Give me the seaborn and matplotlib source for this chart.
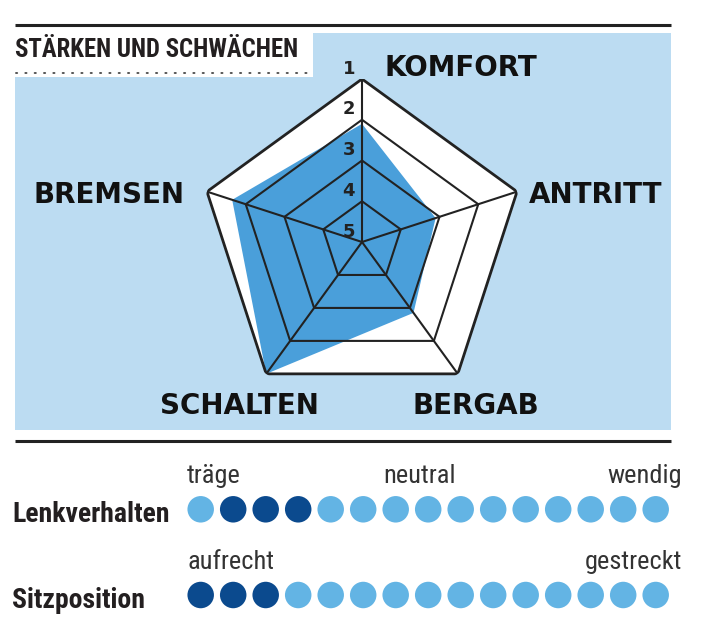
import os
import numpy as np
import pandas as pd
import matplotlib
matplotlib.use("Agg")
import matplotlib.pyplot as plt
from matplotlib import font_manager as fm
import seaborn as sns

# ---------------- data ----------------
title = "STÄRKEN UND SCHWÄCHEN"
categories = ["KOMFORT", "ANTRITT", "BERGAB", "SCHALTEN", "BREMSEN"]
grades = [2.1, 3.1, 2.85, 1.0, 1.65]          # school grades, 1 = best (outer ring)
ring_labels = ["1", "2", "3", "4", "5"]

row_names = ["Lenkverhalten", "Sitzposition"]
lenk_dots = [0, 1, 1, 1, 0, 0, 0, 0, 0, 0, 0, 0, 0, 0, 0]   # 1 = dark (selected)
sitz_dots = [1, 1, 1, 0, 0, 0, 0, 0, 0, 0, 0, 0, 0, 0, 0]
lenk_scale = ["träge", "neutral", "wendig"]
sitz_scale = ["aufrecht", "gestreckt"]

# ---------------- fonts ----------------
WMAP = {"ultralight": 200, "light": 300, "normal": 400, "regular": 400, "book": 400,
        "medium": 500, "roman": 400, "semibold": 600, "demibold": 600, "demi": 600,
        "bold": 700, "heavy": 800, "extra bold": 800, "black": 900}


def _w(v):
    if isinstance(v, (int, float)):
        return int(v)
    return WMAP.get(str(v).lower(), 400)


PREF = ["roboto condensed", "open sans condensed", "noto sans condensed",
        "noto sans semicondensed", "dejavu sans condensed", "liberation sans narrow",
        "noto sans extracondensed"]


def find_condensed(target_weight):
    best, best_score = None, None
    for f in fm.fontManager.ttflist:
        nm = f.name.lower()
        fn = os.path.basename(f.fname).lower()
        if any(k in nm for k in ("mono", "serif", "cjk", "math")):
            continue
        if str(f.style) != "normal" or "italic" in fn or "oblique" in fn:
            continue
        stretch = str(f.stretch).lower()
        cond = ("condensed" in nm or "narrow" in nm or "cond" in fn or "narrow" in fn
                or "condensed" in stretch)
        if not cond:
            continue
        key = nm + " " + fn
        rank = len(PREF)
        for i, p in enumerate(PREF):
            if p.replace(" ", "") in key.replace(" ", "").replace("-", ""):
                rank = i
                break
        if "extracondensed" in fn.replace("-", "") and rank == len(PREF):
            rank = len(PREF) + 1
        score = (rank, abs(_w(f.weight) - target_weight))
        if best_score is None or score < best_score:
            best, best_score = f, score
    return best


fb = find_condensed(700)
fr = find_condensed(350)
if fb is not None:
    NARROW_B = fm.FontProperties(fname=fb.fname)
else:
    NARROW_B = fm.FontProperties(family="DejaVu Sans", weight="bold")
if fr is not None:
    NARROW_R = fm.FontProperties(fname=fr.fname)
else:
    NARROW_R = fm.FontProperties(family="DejaVu Sans")

# ---------------- style ----------------
sns.set_style("white")
plt.rcParams["font.family"] = ["DejaVu Sans"]

PANEL = "#bcdcf2"
FILL = "#4a9fda"
LINE = "#222222"
LIGHT_DOT = "#63b4e4"
DARK_DOT = "#0b4a8e"
TXT = "#333333"

W, H = 712, 625
fig = plt.figure(figsize=(W / 100, H / 100), dpi=100)
fig.patch.set_facecolor("white")

bg = fig.add_axes([0, 0, 1, 1], zorder=0)
bg.set_xlim(0, W)
bg.set_ylim(H, 0)
bg.axis("off")

bg.plot([15, 671], [25, 25], color=LINE, lw=2.2, solid_capstyle="butt")
bg.add_patch(plt.Rectangle((15, 33), 656, 397, color=PANEL, lw=0))
bg.add_patch(plt.Rectangle((15, 33), 298, 44, color="white", lw=0))
bg.plot([16, 310], [73, 73], color="#555555", lw=1.4, ls=(0, (0.6, 4.2)),
        dash_capstyle="round")
bg.plot([15, 671], [441, 441], color=LINE, lw=2.2, solid_capstyle="butt")
t = bg.text(15, 57, title, fontproperties=NARROW_B, color="#231f20",
            ha="left", va="baseline")
t.set_fontsize(17.8)

# ---------------- radar ----------------
cx, cy, R = 362, 242, 163
rad = fig.add_axes([(cx - R) / W, (H - cy - R) / H, 2 * R / W, 2 * R / H],
                   projection="polar", zorder=2)
rad.set_theta_offset(np.pi / 2)
rad.set_theta_direction(-1)
rad.set_ylim(0, 4)
rad.axis("off")

n = len(categories)
angles = np.linspace(0, 2 * np.pi, n, endpoint=False)
closed = np.concatenate([angles, angles[:1]])

rad.fill(closed, [4] * (n + 1), color="white", lw=0, zorder=1)
vals = [5 - g for g in grades]
rad.fill(closed, vals + vals[:1], color=FILL, lw=0, zorder=2)
for lvl in range(1, 5):
    r = 5 - lvl
    rad.plot(closed, [r] * (n + 1), color=LINE, lw=2.0 if lvl == 1 else 1.5,
             zorder=3, solid_joinstyle="miter")
for a in angles:
    rad.plot([a, a], [0, 4], color=LINE, lw=1.5, zorder=3)

for lbl in ring_labels:
    r = 5 - int(lbl)
    rad.annotate(lbl, xy=(0, r), xytext=(-9.5, 7.5), textcoords="offset points",
                 ha="center", va="center", fontsize=13, fontweight="bold",
                 color=LINE, annotation_clip=False, zorder=4)

label_offsets = {
    "KOMFORT": ((16.5, 8), "left", "center"),
    "ANTRITT": ((8.6, -2.5), "left", "center"),
    "BERGAB": ((13, -23), "center", "center"),
    "SCHALTEN": ((-19.6, -23), "center", "center"),
    "BREMSEN": ((-16.5, -2.5), "right", "center"),
}
for a, cat in zip(angles, categories):
    off, ha, va = label_offsets[cat]
    rad.annotate(cat, xy=(a, 4), xytext=off, textcoords="offset points",
                 ha=ha, va=va, fontsize=20, fontweight="bold", color="#111111",
                 annotation_clip=False, zorder=4)

# ---------------- dot scales ----------------
x0, step, top_px, row0_px, row_gap = 200.7, 32.5, 450, 509.3, 85.7
left_px = x0 - step / 2
dots_ax = fig.add_axes([left_px / W, 0, 15 * step / W, (H - top_px) / H], zorder=2)
u_top = (row0_px - top_px) / row_gap
u_bot = (H - row0_px) / row_gap
dots_ax.set_xlim(-0.5, 14.5)
dots_ax.set_ylim(u_bot, -u_top)
dots_ax.axis("off")

rows = []
for ri, dots in enumerate([lenk_dots, sitz_dots]):
    for i, d in enumerate(dots):
        rows.append({"pos": i, "row": ri, "state": "dark" if d else "light"})
df = pd.DataFrame(rows)
sns.scatterplot(data=df, x="pos", y="row", hue="state",
                palette={"dark": DARK_DOT, "light": LIGHT_DOT},
                s=(26.5 * 0.72) ** 2, linewidth=0, legend=False, ax=dots_ax)

name_dx_pt = -(left_px - 12) * 0.72
for ri, name in enumerate(row_names):
    a_ = dots_ax.annotate(name, xy=(-0.5, ri), xytext=(name_dx_pt, -9),
                          textcoords="offset points", ha="left", va="baseline",
                          fontproperties=NARROW_B, color="#231f20",
                          annotation_clip=False)
    a_.set_fontsize(20)

scale_pos = {"träge": (-0.42, "left"), "neutral": (6.73, "center"),
             "wendig": (14.8, "right"),
             "aufrecht": (-0.42, "left"), "gestreckt": (14.8, "right")}
for ri, labels in enumerate([lenk_scale, sitz_scale]):
    for lbl in labels:
        xp, ha = scale_pos[lbl]
        a_ = dots_ax.annotate(lbl, xy=(xp, ri), xytext=(0, 18.7), textcoords="offset points",
                              ha=ha, va="baseline", fontproperties=NARROW_R,
                              color=TXT, annotation_clip=False)
        a_.set_fontsize(19)

fig.savefig("out.png", dpi=100)
